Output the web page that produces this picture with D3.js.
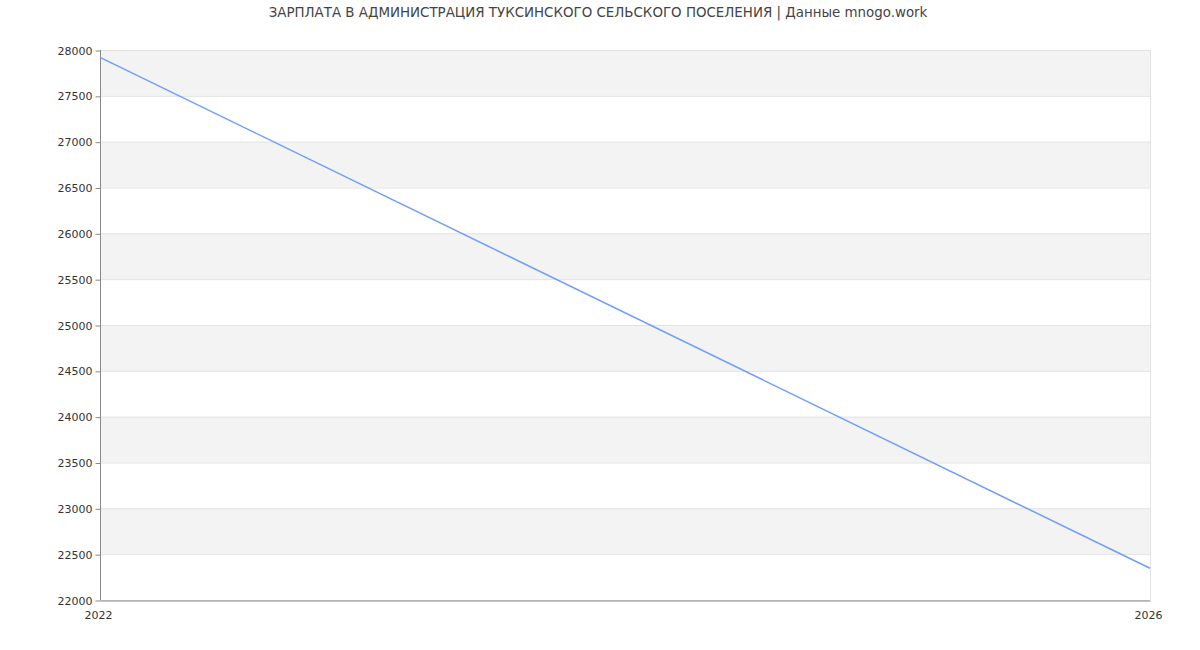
<!DOCTYPE html>
<html>
<head>
<meta charset="utf-8">
<script src="https://cdn.jsdelivr.net/npm/d3@7"></script>
<style>
  body { margin: 0; background: #fff; }
  text { font-family: "DejaVu Sans", sans-serif; }
</style>
</head>
<body>
<svg id="chart"></svg>
<script>
// data
const title = "ЗАРПЛАТА В АДМИНИСТРАЦИЯ ТУКСИНСКОГО СЕЛЬСКОГО ПОСЕЛЕНИЯ | Данные mnogo.work";
const years = [2022, 2026];
const salaries = [27920, 22346];
const yTicks = [22000, 22500, 23000, 23500, 24000, 24500, 25000, 25500, 26000, 26500, 27000, 27500, 28000];

const width = 1200, height = 650;
const margin = { top: 50, right: 50, bottom: 50, left: 100 };

const svg = d3.select("#chart")
  .attr("width", width)
  .attr("height", height);

const x = d3.scaleLinear()
  .domain([years[0], years[years.length - 1]])
  .range([margin.left, width - margin.right]);

const y = d3.scaleLinear()
  .domain([yTicks[0], yTicks[yTicks.length - 1]])
  .range([height - margin.bottom, margin.top]);

// alternating bands
const bands = yTicks.slice(0, -1).map((v, i) => [v, yTicks[i + 1], i]);
svg.append("g")
  .selectAll("rect")
  .data(bands)
  .join("rect")
  .attr("x", margin.left)
  .attr("width", width - margin.right - margin.left)
  .attr("y", d => y(d[1]))
  .attr("height", d => y(d[0]) - y(d[1]))
  .attr("fill", d => d[2] % 2 === 1 ? "#f3f3f3" : "#ffffff");

// grid lines
svg.append("g")
  .selectAll("line")
  .data(yTicks)
  .join("line")
  .attr("x1", margin.left)
  .attr("x2", width - margin.right)
  .attr("y1", d => y(d) + 0.5)
  .attr("y2", d => y(d) + 0.5)
  .attr("stroke", "#e2e2e2");

// right border
svg.append("line")
  .attr("x1", width - margin.right + 0.5)
  .attr("x2", width - margin.right + 0.5)
  .attr("y1", margin.top)
  .attr("y2", height - margin.bottom)
  .attr("stroke", "#e2e2e2");

// y axis
const yAxis = svg.append("g")
  .attr("transform", `translate(${margin.left + 0.5},0.5)`)
  .call(d3.axisLeft(y).tickValues(yTicks).tickSize(5).tickPadding(3).tickFormat(d3.format("d")));
yAxis.select(".domain").attr("stroke", "#888").attr("d", `M0,${margin.top - 0.5}V${height - margin.bottom - 0.5}`);
yAxis.selectAll(".tick line").attr("stroke", "#888");
yAxis.selectAll(".tick text")
  .attr("fill", "#333")
  .style("font-size", "11px")
  .style("font-family", "DejaVu Sans, sans-serif");

// x axis
const xAxis = svg.append("g")
  .attr("transform", `translate(0,${height - margin.bottom + 0.5})`)
  .call(d3.axisBottom(x).tickValues(years).tickSize(0).tickPadding(11).tickFormat(d3.format("d")));
xAxis.select(".domain").attr("stroke", "#888");
xAxis.selectAll(".tick text")
  .attr("fill", "#333")
  .attr("dx", "-2")
  .style("font-size", "11px")
  .style("font-family", "DejaVu Sans, sans-serif");

// line
const line = d3.line()
  .x((d, i) => x(years[i]))
  .y(d => y(d));

svg.append("path")
  .datum(salaries)
  .attr("fill", "none")
  .attr("stroke", "#6f9ef8")
  .attr("stroke-width", 1.5)
  .attr("d", line);

// title
svg.append("text")
  .attr("x", 598)
  .attr("y", 17)
  .attr("text-anchor", "middle")
  .attr("fill", "#444")
  .style("font-size", "13.4px")
  .text(title);
</script>
</body>
</html>
